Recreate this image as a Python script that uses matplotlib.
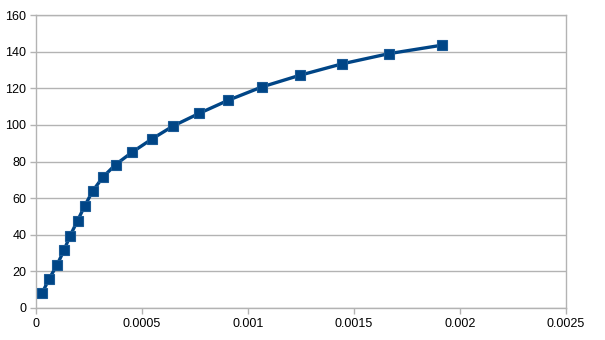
import numpy as np
import matplotlib.pyplot as plt

# data
x_vals = [0.0000283, 0.0000613, 0.0000991, 0.000132, 0.000161, 0.000196,
          0.000230, 0.000268, 0.000316, 0.000375, 0.000455, 0.000547,
          0.000647, 0.000770, 0.000906, 0.001065, 0.001245, 0.001443,
          0.001665, 0.001914]
y_vals = [8.0, 15.8, 23.5, 31.5, 39.5, 47.7, 55.8, 64.0, 71.5, 78.3, 85.2,
          92.3, 99.4, 106.3, 113.4, 120.7, 127.1, 133.3, 138.9, 143.5]
x_ticks = [0, 0.0005, 0.001, 0.0015, 0.002, 0.0025]
x_ticklabels = ['0', '0.0005', '0.001', '0.0015', '0.002', '0.0025']
y_ticks = [0, 20, 40, 60, 80, 100, 120, 140, 160]

plt.rcParams['font.family'] = ['Liberation Sans', 'DejaVu Sans']

fig = plt.figure(figsize=(6.05, 3.4), dpi=100)
ax = fig.add_axes([36/605, 1-308/340, 530/605, 293/340])

ax.plot(x_vals, y_vals, color='#004586', linewidth=2.4,
        marker='s', markersize=7.5, markerfacecolor='#004586',
        markeredgecolor='#1a5a96', markeredgewidth=0.8,
        solid_joinstyle='round', zorder=3)

ax.set_xlim(0, 0.0025)
ax.set_ylim(0, 160)
ax.set_xticks(x_ticks)
ax.set_xticklabels(x_ticklabels)
ax.set_yticks(y_ticks)

ax.grid(True, axis='y', color='#b3b3b3', linewidth=1)
for s in ax.spines.values():
    s.set_color('#b3b3b3')
    s.set_linewidth(1)
ax.tick_params(axis='both', colors='#b3b3b3', labelcolor='black',
               labelsize=9, length=4, width=1, direction='out')
ax.tick_params(axis='x', pad=3)
ax.tick_params(axis='y', pad=3)

fig.savefig('out.png', dpi=100)
